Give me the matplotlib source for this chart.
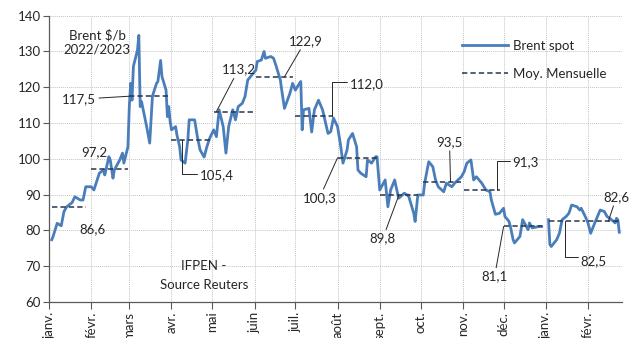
import numpy as np
import matplotlib.pyplot as plt
import matplotlib.dates as mdates

plt.rcParams['font.family'] = ['Lato', 'DejaVu Sans']

# Brent spot, $/b
jours = np.array([
    '2022-01-03', '2022-01-04', '2022-01-07', '2022-01-10', '2022-01-12', '2022-01-14',
    '2022-01-18', '2022-01-20', '2022-01-24', '2022-01-26', '2022-01-28',
    '2022-02-01', '2022-02-03', '2022-02-07', '2022-02-10', '2022-02-11', '2022-02-14',
    '2022-02-15', '2022-02-17', '2022-02-18', '2022-02-22', '2022-02-24', '2022-02-25',
    '2022-02-28',
    '2022-03-01', '2022-03-02', '2022-03-03', '2022-03-04', '2022-03-07', '2022-03-08',
    '2022-03-09', '2022-03-10', '2022-03-11', '2022-03-14', '2022-03-16', '2022-03-18',
    '2022-03-21', '2022-03-22', '2022-03-24', '2022-03-25', '2022-03-28', '2022-03-29',
    '2022-03-30', '2022-03-31',
    '2022-04-01', '2022-04-04', '2022-04-05', '2022-04-07', '2022-04-08', '2022-04-11',
    '2022-04-13', '2022-04-14', '2022-04-18', '2022-04-20', '2022-04-22', '2022-04-25',
    '2022-04-27', '2022-04-29',
    '2022-05-02', '2022-05-04', '2022-05-06', '2022-05-09', '2022-05-11', '2022-05-13',
    '2022-05-16', '2022-05-18', '2022-05-20', '2022-05-23', '2022-05-25', '2022-05-27',
    '2022-05-31',
    '2022-06-02', '2022-06-03', '2022-06-06', '2022-06-08', '2022-06-09', '2022-06-13',
    '2022-06-15', '2022-06-17', '2022-06-20', '2022-06-21', '2022-06-23', '2022-06-27',
    '2022-06-29',
    '2022-07-01', '2022-07-04', '2022-07-05', '2022-07-06', '2022-07-07', '2022-07-11',
    '2022-07-13', '2022-07-15', '2022-07-18', '2022-07-21', '2022-07-25', '2022-07-27',
    '2022-07-29',
    '2022-08-01', '2022-08-03', '2022-08-05', '2022-08-08', '2022-08-09', '2022-08-12',
    '2022-08-15', '2022-08-16', '2022-08-18', '2022-08-22', '2022-08-23', '2022-08-26',
    '2022-08-29', '2022-08-30', '2022-08-31',
    '2022-09-01', '2022-09-05', '2022-09-07', '2022-09-09', '2022-09-12', '2022-09-13',
    '2022-09-15', '2022-09-19', '2022-09-21', '2022-09-22', '2022-09-26', '2022-09-27',
    '2022-09-29',
    '2022-10-03', '2022-10-04', '2022-10-07', '2022-10-10', '2022-10-12', '2022-10-14',
    '2022-10-18', '2022-10-20', '2022-10-24', '2022-10-26', '2022-10-31',
    '2022-11-02', '2022-11-04', '2022-11-07', '2022-11-09', '2022-11-11', '2022-11-15',
    '2022-11-18', '2022-11-21', '2022-11-22', '2022-11-25', '2022-11-28',
    '2022-12-01', '2022-12-02', '2022-12-05', '2022-12-06', '2022-12-08', '2022-12-09',
    '2022-12-13', '2022-12-15', '2022-12-19', '2022-12-20', '2022-12-22', '2022-12-27',
    '2022-12-29', '2022-12-30',
    '2023-01-03', '2023-01-04', '2023-01-05', '2023-01-09', '2023-01-11', '2023-01-13',
    '2023-01-16', '2023-01-18', '2023-01-20', '2023-01-24', '2023-01-26', '2023-01-27',
    '2023-01-30',
    '2023-02-01', '2023-02-03', '2023-02-06', '2023-02-08', '2023-02-10', '2023-02-13',
    '2023-02-15', '2023-02-17', '2023-02-21', '2023-02-22', '2023-02-23', '2023-02-24',
], dtype='datetime64[D]')

brent = np.array([
    77.4, 78.3, 82.0, 81.3, 85.3, 86.6, 87.8, 89.4, 88.5, 88.5, 92.2,
    92.2, 91.3, 96.0, 96.9, 95.5, 100.6, 99.7, 94.6, 96.9, 99.7, 101.6, 98.8, 103.4,
    114.6, 121.1, 116.4, 125.8, 130.4, 134.5, 114.6, 116.0, 114.1, 108.5, 104.4, 117.5,
    121.1, 121.6, 127.5, 123.0, 119.2, 111.8, 114.6, 110.5,
    108.1, 109.0, 106.7, 103.4, 99.7, 98.8, 105.3, 110.9, 110.9, 106.2, 102.5, 100.5,
    103.4, 105.7,
    108.1, 106.2, 113.7, 109.0, 101.6, 109.0, 113.7, 110.9, 114.6, 115.5, 117.4, 122.0,
    123.9,
    124.8, 127.2, 127.6, 130.0, 128.1, 128.6, 128.1, 125.8, 122.0, 119.2, 114.1, 118.3,
    121.1,
    119.2, 121.1, 121.6, 108.1, 113.7, 114.1, 107.5, 113.7, 116.4, 113.7, 107.1, 107.6,
    111.4,
    109.0, 104.4, 98.8, 102.5, 105.3, 107.1, 103.4, 96.9, 96.0, 95.0, 99.7, 98.8,
    100.6, 100.6, 96.0,
    91.3, 94.1, 86.6, 91.3, 94.1, 92.2, 89.0, 90.4, 89.9, 89.9, 84.8, 82.5, 89.9,
    89.9, 93.2, 99.2, 97.8, 94.1, 92.2, 90.8, 93.2, 92.2, 93.2, 95.0,
    96.4, 98.8, 99.7, 94.1, 95.0, 93.2, 91.3, 90.8, 88.5, 84.5, 84.8,
    86.2, 83.9, 82.5, 81.1, 77.4, 76.5, 78.3, 83.0, 80.2, 82.1, 80.7, 81.1, 81.1, np.nan,
    83.0, 76.1, 75.5, 77.4, 79.2, 83.0, 83.9, 84.8, 87.1, 86.6, 85.7, 86.2, 83.9,
    82.1, 79.2, 82.1, 83.9, 85.7, 85.3, 83.9, 83.4, 82.1, 83.4, 82.9, 79.5,
])

# moyennes mensuelles
mois = np.arange('2022-01', '2023-03', dtype='datetime64[M]')
moyennes = [86.6, 97.2, 117.5, 105.4, 113.2, 122.9, 112.0,
            100.3, 89.8, 93.5, 91.3, 81.1, 82.5, 82.6]
noms_mois = ['janv.', 'févr.', 'mars', 'avr.', 'mai', 'juin', 'juil.',
             'août', 'sept.', 'oct.', 'nov.', 'déc.', 'janv.', 'févr.']

# étiquettes : (index du mois, jour d'accroche, décalage texte en px, trait, départ du trait)
etiquettes = [
    (0, 14, (26, -22), None, None),
    (1, 14, (-15, 17), None, None),
    (2, 1, (-50, -3), 'arc3', None),
    (3, 9, (34, -36), 'angle', (0, 0.6)),
    (4, 4, (22, 42), 'arc3', None),
    (5, 23, (21, 36), 'arc3', None),
    (6, 28, (35, 32), 'angle', (0, 0.7)),
    (7, 1, (-18, -40), 'arc3', None),
    (8, 15, (-16, -43), 'arc3', None),
    (9, 23, (-1, 40), 'arc3', None),
    (10, 26, (29, 28), 'angle', (0, 0.6)),
    (11, 1, (-9, -50), 'arc3', None),
    (12, 15, (29, -40), 'angle', (0, 0.85)),
    (13, 16, (8, 24), 'arc3', None),
]

bleu = '#4a7ebb'
sombre = '#26374d'
texte = '#262626'

fig = plt.figure(figsize=(6.29, 3.38), dpi=100)
ax = fig.add_axes([49 / 629, 1 - 302 / 338, 573 / 629, 286.3 / 338])

ax.plot(jours, brent, color=bleu, lw=2.0, label='Brent spot', zorder=3)

# segments horizontaux des moyennes, séparés par des NaN
jours_mois = jours.astype('datetime64[M]')
seg_x, seg_y = [], []
for m, v in zip(mois, moyennes):
    d = jours[(jours_mois == m) & ~np.isnan(brent)]
    seg_x += [d[0], d[-1], d[-1]]
    seg_y += [v, v, np.nan]
ax.plot(np.array(seg_x, dtype='datetime64[D]'), seg_y, color=sombre, lw=1.1,
        dashes=(3.5, 2), label='Moy. Mensuelle', zorder=4)

for i, jour, (dx, dy), style, relpos in etiquettes:
    xy = (mdates.date2num(mois[i] + np.timedelta64(jour - 1, 'D')), moyennes[i])
    txt = f'{moyennes[i]:.1f}'.replace('.', ',')
    props = None
    if style:
        props = dict(arrowstyle='-', color=texte, lw=0.7, shrinkA=0, shrinkB=0)
        if style == 'angle':
            props['connectionstyle'] = 'angle,angleA=0,angleB=90,rad=0'
            props['relpos'] = relpos
    ax.annotate(txt, xy=xy, xytext=(dx, dy), textcoords='offset pixels',
                ha='center', va='center', fontsize=9.5, color=texte,
                arrowprops=props, annotation_clip=False, zorder=5)

ax.text(0.084, 0.955, 'Brent $/b\n2022/2023', transform=ax.transAxes, ha='center',
        va='top', fontsize=9.5, color=texte, linespacing=1.25)
ax.text(0.27, 0.091, 'IFPEN -\nSource Reuters', transform=ax.transAxes, ha='center',
        va='center', fontsize=9.5, color=texte, linespacing=1.7)

ax.set_ylim(60, 140)
ax.set_yticks(range(60, 141, 10))
ax.set_xlim(np.datetime64('2022-01-01'), np.datetime64('2023-02-26'))
ax.set_xticks(mois.astype('datetime64[D]'))
ax.set_xticklabels(noms_mois, rotation=90, va='top', ha='center')

ax.grid(True, color='#c4c4c4', linestyle=(0, (1, 1)), lw=0.7)
ax.set_axisbelow(True)
for s in ['top', 'right']:
    ax.spines[s].set_visible(False)
for s in ['left', 'bottom']:
    ax.spines[s].set_color('#595959')
    ax.spines[s].set_linewidth(0.9)
ax.tick_params(axis='y', length=4, width=0.8, color='#595959', labelcolor=texte,
               labelsize=9.5, pad=2)
ax.tick_params(axis='x', length=5, width=0.8, color='#595959', labelcolor=texte,
               labelsize=9.5, pad=2)

ax.legend(loc='upper left', bbox_to_anchor=((462 - 49) / 573, (302 - 39.5) / 286.3),
          frameon=False, handlelength=3.5, handletextpad=0.4, labelspacing=1.25,
          borderaxespad=0, borderpad=0, fontsize=9.5, labelcolor=texte)

fig.savefig('out.png', dpi=100)
